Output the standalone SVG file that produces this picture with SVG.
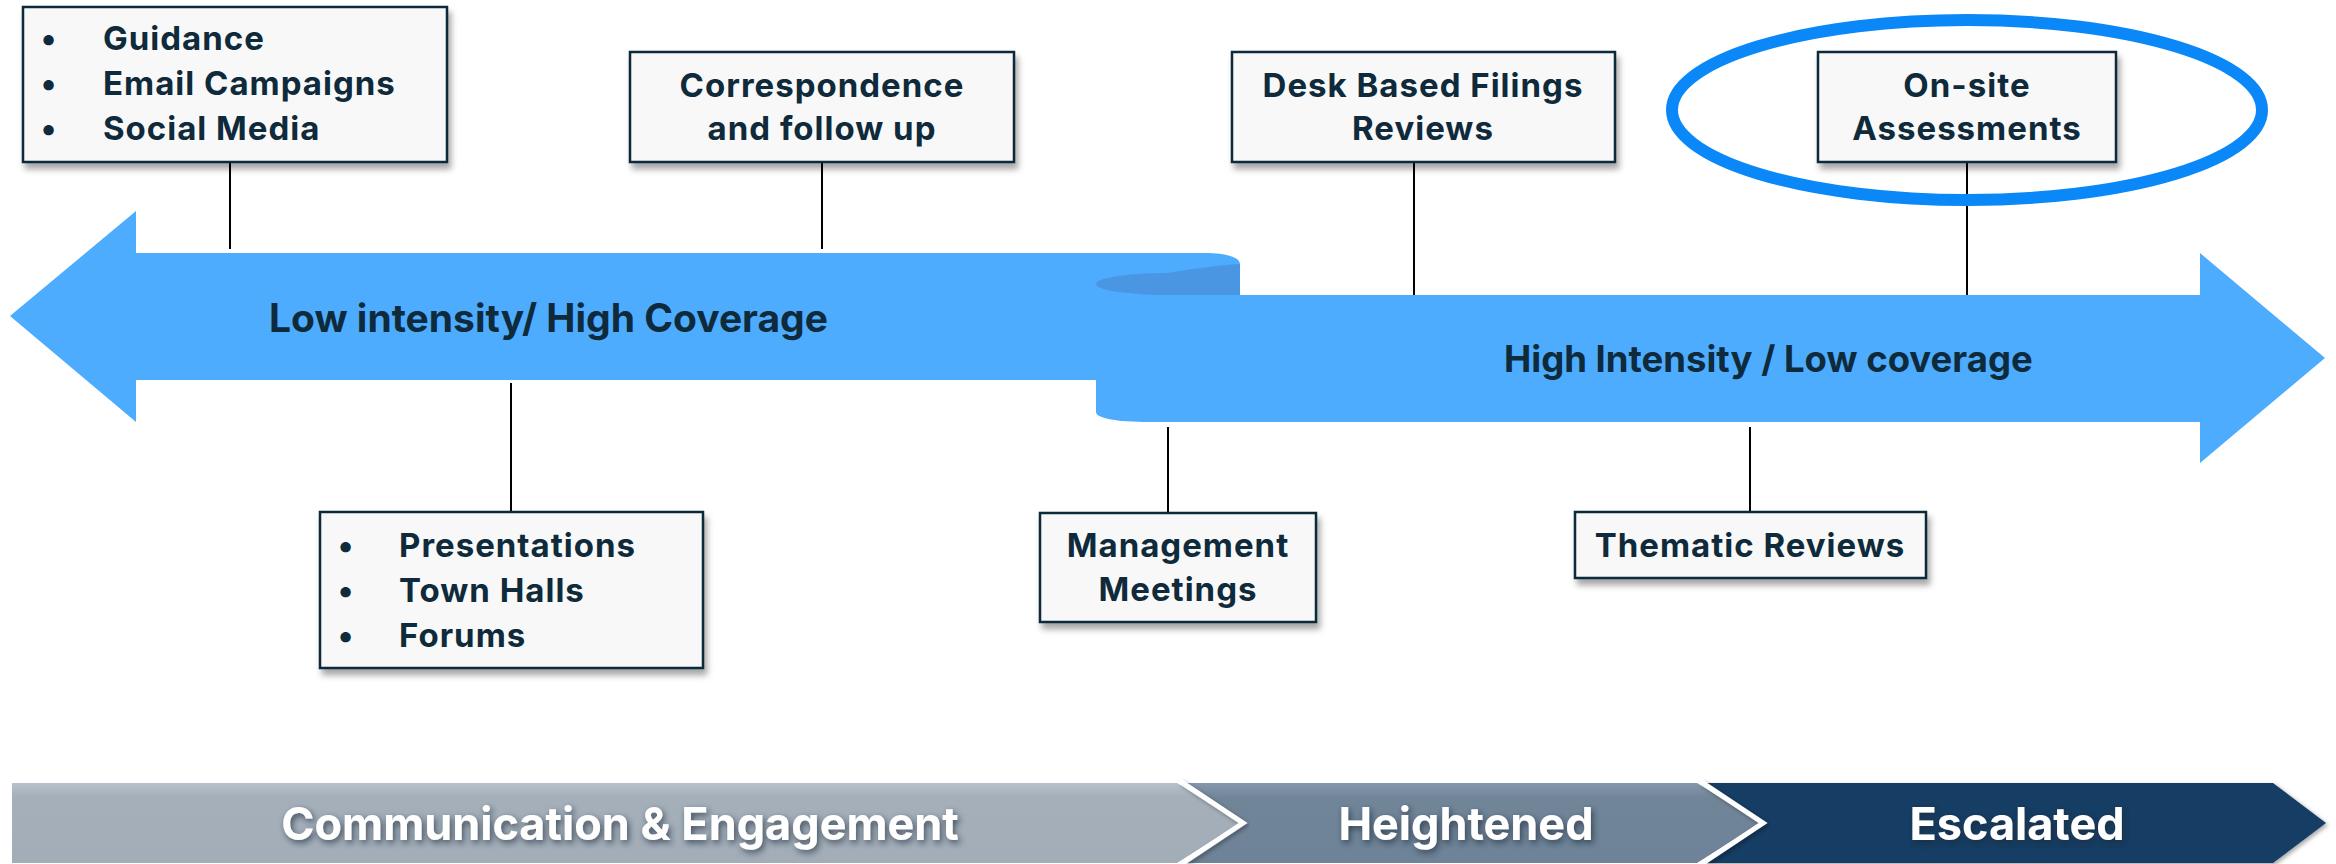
<svg xmlns="http://www.w3.org/2000/svg" width="2336" height="864" viewBox="0 0 2336 864">
<defs>
<style>
.box{fill:#f8f8f8;stroke:#0e2a3b;stroke-width:2.5;filter:url(#sh)}
.t{font-family:Inter,"Open Sans","Liberation Sans",sans-serif;font-weight:700;fill:#0e2a3b;font-size:33px;letter-spacing:1px}
.c{text-anchor:middle}
.band{fill:#4dacfe}
.big{font-size:39px;letter-spacing:0}
.big2{font-size:36.5px;letter-spacing:0}
.cv{font-family:Inter,"Open Sans","Liberation Sans",sans-serif;font-weight:700;fill:#ffffff;font-size:45px;text-anchor:middle;filter:url(#tsh)}
.ln{stroke:#000;stroke-width:2;fill:none}
</style>
<filter id="sh" x="-10%" y="-10%" width="125%" height="140%">
<feDropShadow dx="3" dy="6" stdDeviation="3" flood-color="#000" flood-opacity="0.35"/>
</filter>
<filter id="tsh" x="-10%" y="-30%" width="120%" height="170%">
<feDropShadow dx="2" dy="3" stdDeviation="3" flood-color="#1c2a38" flood-opacity="0.7"/>
</filter>
<filter id="esh" x="-10%" y="-10%" width="120%" height="120%">
<feDropShadow dx="2" dy="2" stdDeviation="2" flood-color="#000" flood-opacity="0.35"/>
</filter>
<linearGradient id="g1" x1="0" y1="0" x2="0" y2="1">
<stop offset="0" stop-color="#b6c1cc"/><stop offset="0.18" stop-color="#a4afba"/><stop offset="1" stop-color="#a2adb8"/>
</linearGradient>
<linearGradient id="g2" x1="0" y1="0" x2="0" y2="1">
<stop offset="0" stop-color="#8698ab"/><stop offset="0.18" stop-color="#718599"/><stop offset="1" stop-color="#6e8398"/>
</linearGradient>
</defs>
<rect width="2336" height="864" fill="#ffffff"/>

<g id="ribbon">
<path class="band" d="M10,316 L136,211 L136,253 L1205,253 C1228,253 1240,258 1240,264 L1240,295 L1096,295 L1096,380 L136,380 L136,422 Z"/>
<path class="band" d="M1096,284 L1096,412 C1096,418 1115,422 1150,422 L2200,422 L2200,463 L2325,358 L2200,253 L2200,295 L1168,295 Z"/>
<path fill="#4a96e2" d="M1168,273 A72,11 0 0 0 1168,295 L1240,295 L1240,264 C1210,266 1185,270 1168,273 Z"/>
<text class="t big" x="269" y="332">Low intensity/ High Coverage</text>
<text class="t big2" x="1504" y="372">High Intensity / Low coverage</text>
</g>

<g id="connectors">
<line class="ln" x1="230" y1="162" x2="230" y2="249"/>
<line class="ln" x1="822" y1="162" x2="822" y2="249"/>
<line class="ln" x1="1414" y1="162" x2="1414" y2="295"/>
<line class="ln" x1="1967" y1="162" x2="1967" y2="295"/>
<line class="ln" x1="511" y1="383" x2="511" y2="512"/>
<line class="ln" x1="1168" y1="427" x2="1168" y2="512"/>
<line class="ln" x1="1750" y1="427" x2="1750" y2="512"/>
</g>

<g id="guidance">
<rect class="box" x="23" y="7" width="424" height="155"/>
<text class="t c" x="49" y="50">•</text>
<text class="t c" x="49" y="95">•</text>
<text class="t c" x="49" y="140">•</text>
<text class="t" x="103" y="50">Guidance</text>
<text class="t" x="103" y="95">Email Campaigns</text>
<text class="t" x="103" y="140">Social Media</text>
</g>

<g id="correspondence">
<rect class="box" x="630" y="52" width="384" height="110"/>
<text class="t c" x="822" y="97">Correspondence</text>
<text class="t c" x="822" y="140">and follow up</text>
</g>

<g id="desk">
<rect class="box" x="1232" y="52" width="383" height="110"/>
<text class="t c" x="1423" y="97">Desk Based Filings</text>
<text class="t c" x="1423" y="140">Reviews</text>
</g>

<g id="onsite">
<rect class="box" x="1818" y="52" width="298" height="110"/>
<text class="t c" x="1967" y="97">On-site</text>
<text class="t c" x="1967" y="140">Assessments</text>
</g>

<g id="highlight">
<ellipse cx="1967" cy="110" rx="295" ry="90" fill="none" stroke="#0b88f8" stroke-width="12"/>
</g>

<g id="presentations">
<rect class="box" x="320" y="512" width="383" height="156"/>
<text class="t c" x="346" y="557">•</text>
<text class="t c" x="346" y="602">•</text>
<text class="t c" x="346" y="647">•</text>
<text class="t" x="399" y="557">Presentations</text>
<text class="t" x="399" y="602">Town Halls</text>
<text class="t" x="399" y="647">Forums</text>
</g>

<g id="management">
<rect class="box" x="1040" y="513" width="276" height="109"/>
<text class="t c" x="1178" y="557">Management</text>
<text class="t c" x="1178" y="601">Meetings</text>
</g>

<g id="thematic">
<rect class="box" x="1575" y="512" width="351" height="66"/>
<text class="t c" x="1750" y="557">Thematic Reviews</text>
</g>

<g id="stages">
<path fill="url(#g1)" d="M12,783 L1177,783 L1240,823 L1177,863 L12,863 Z"/>
<path fill="url(#g2)" d="M1183,783 L1697,783 L1760,823 L1697,863 L1183,863 L1246,823 Z"/>
<path fill="#183c63" filter="url(#esh)" d="M1704,783 L2273,783 L2326,823 L2273,863 L1704,863 L1767,823 Z"/>
<path d="M1180,781 L1243,823 L1180,865" fill="none" stroke="#ffffff" stroke-width="5" filter="url(#esh)"/>
<path d="M1700,781 L1763,823 L1700,865" fill="none" stroke="#ffffff" stroke-width="5" filter="url(#esh)"/>
<text class="cv" x="620" y="840">Communication &amp; Engagement</text>
<text class="cv" x="1466" y="840">Heightened</text>
<text class="cv" x="2017" y="840">Escalated</text>
</g>
</svg>
